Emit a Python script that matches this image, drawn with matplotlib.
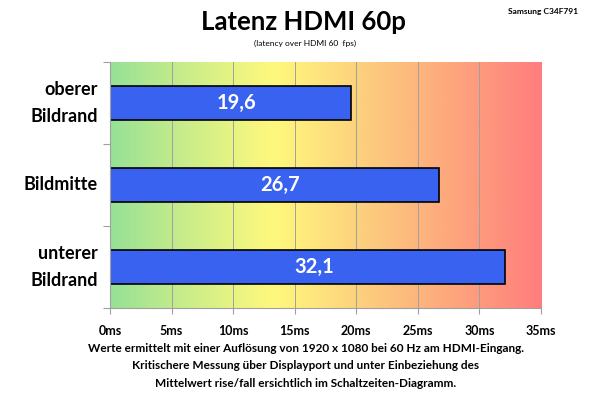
import numpy as np
import matplotlib
matplotlib.use("Agg")
import matplotlib.pyplot as plt
from matplotlib.colors import LinearSegmentedColormap

categories = ["oberer\nBildrand", "Bildmitte", "unterer\nBildrand"]
values = [19.6, 26.7, 32.1]
value_labels = ["19,6", "26,7", "32,1"]
xticks = [0, 5, 10, 15, 20, 25, 30, 35]
xtick_labels = ["0ms", "5ms", "10ms", "15ms", "20ms", "25ms", "30ms", "35ms"]

FONT = "Lato"
plt.rcParams["font.family"] = [FONT, "DejaVu Sans"]

fig = plt.figure(figsize=(6, 3.95), dpi=100)
ax = fig.add_axes([0.1833, 0.2203, 0.7184, 0.6227])

# background gradient
stops = [(0.0, (150/255, 225/255, 150/255)),
         (0.15, (195/255, 235/255, 140/255)),
         (0.30, (235/255, 245/255, 130/255)),
         (0.38, (255/255, 248/255, 125/255)),
         (0.50, (254/255, 225/255, 125/255)),
         (0.62, (252/255, 200/255, 125/255)),
         (0.80, (254/255, 165/255, 125/255)),
         (1.0, (255/255, 125/255, 125/255))]
cmap = LinearSegmentedColormap.from_list("bg", stops)
grad = np.linspace(0, 1, 512).reshape(1, -1)
ax.imshow(grad, aspect="auto", cmap=cmap, extent=[0, 35, 2.5, -0.5], zorder=0)

for x in xticks[1:-1]:
    ax.axvline(x, color="#a0a0a0", lw=0.7, zorder=1)

y = np.arange(len(categories))
ax.barh(y, values, height=0.41, color="#3a62f0", edgecolor="black", lw=1.2, zorder=2)
for yi, v, lab in zip(y, values, value_labels):
    ax.text(v / 2 + 0.5, yi, lab, color="white", fontsize=14.5, fontweight="bold",
            ha="center", va="center", zorder=3)

ax.set_xlim(0, 35)
ax.set_ylim(2.5, -0.5)
ax.set_xticks(xticks)
ax.set_xticklabels(xtick_labels, fontsize=9, fontweight="bold")
ax.set_yticks([-0.5, 0.5, 1.5, 2.5])
ax.set_yticklabels([])
ax.tick_params(axis="y", length=5, color="#a0a0a0", direction="out")
ax.tick_params(axis="x", length=4, color="#a0a0a0", direction="out", pad=8)
for yi, c in zip(y, categories):
    ax.text(-1.0, yi, c, ha="right", va="center", fontsize=13, fontweight="bold",
            linespacing=1.75, transform=ax.transData)
for s in ["top", "right"]:
    ax.spines[s].set_visible(False)
ax.spines["left"].set_color("#a0a0a0")
ax.spines["bottom"].set_color("#a0a0a0")

fig.text(0.505, 0.945, "Latenz HDMI 60p", ha="center", va="center", fontsize=18.5, fontweight="bold")
fig.text(0.508, 0.891, "(latency over HDMI 60  fps)", ha="center", va="center", fontsize=6)
fig.text(0.963, 0.97, "Samsung C34F791", ha="right", va="center", fontsize=6, fontweight="bold")

footer = ("Werte ermittelt mit einer Auflösung von 1920 x 1080 bei 60 Hz am HDMI-Eingang.\n"
          "Kritischere Messung über Displayport und unter Einbeziehung des\n"
          "Mittelwert rise/fall ersichtlich im Schaltzeiten-Diagramm.")
fig.text(0.51, 0.074, footer, ha="center", va="center", fontsize=8.5, fontweight="bold", linespacing=1.75)

fig.savefig("out.png", dpi=100)
